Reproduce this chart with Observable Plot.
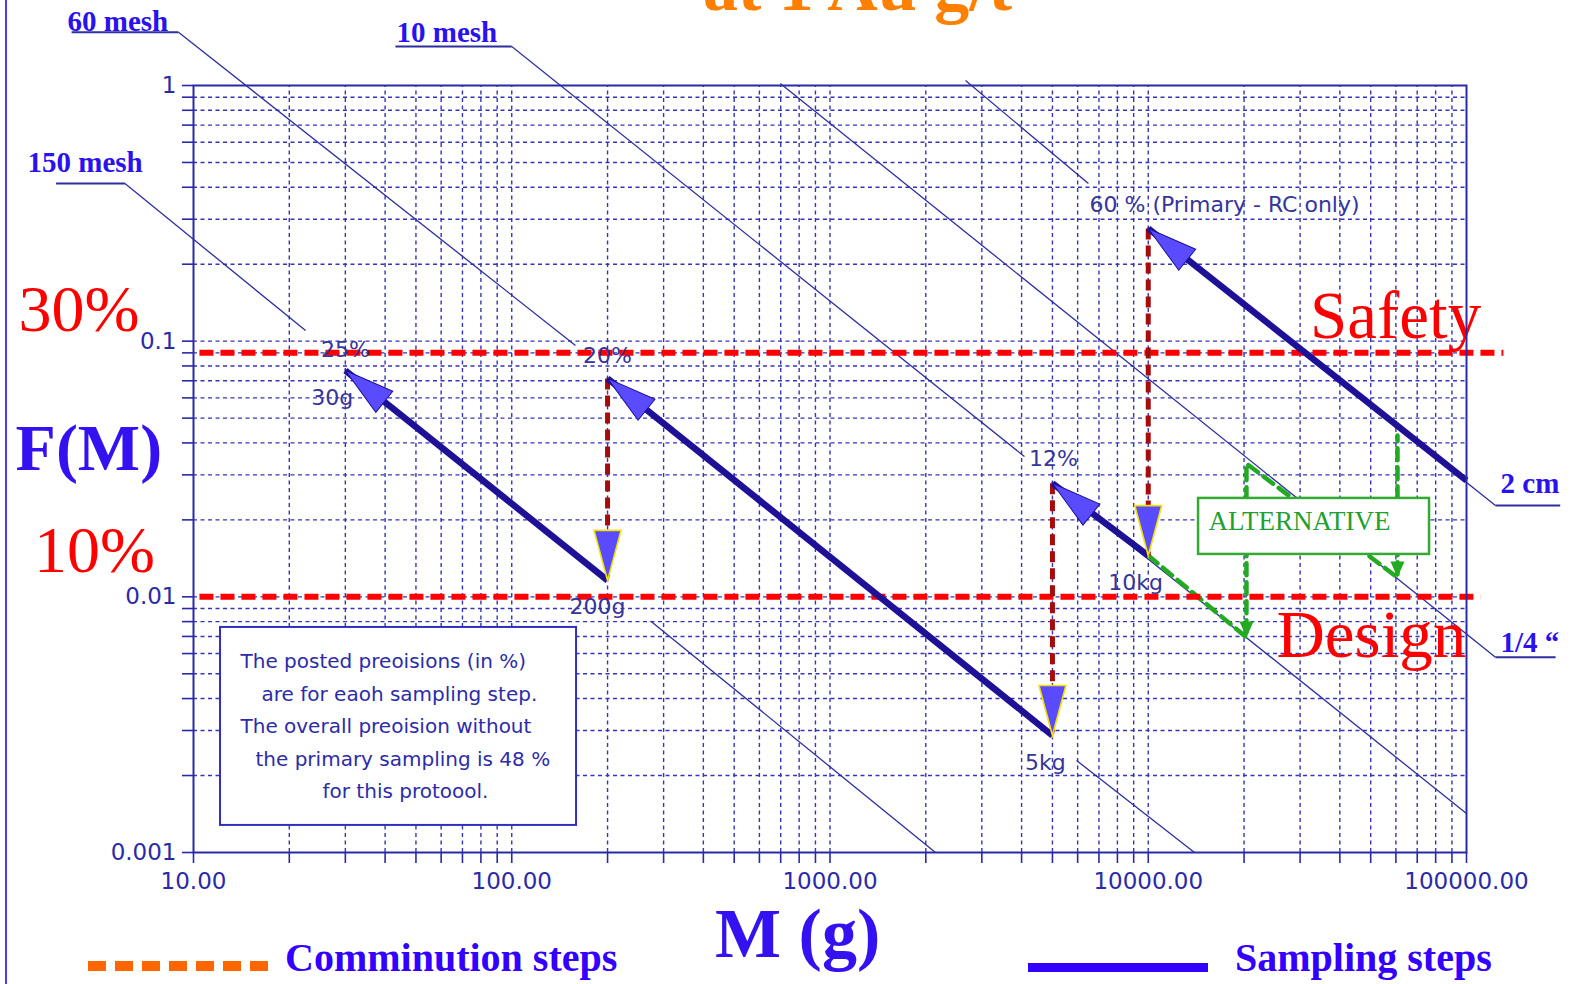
<!DOCTYPE html>
<html><head><meta charset="utf-8">
<script src="https://cdn.jsdelivr.net/npm/d3@7"></script>
<script src="https://cdn.jsdelivr.net/npm/@observablehq/plot@0.6"></script>
<style>
html,body{margin:0;padding:0;background:#fff;overflow:hidden;}
#wrap{position:relative;width:1571px;height:984px;}
#chart svg{display:block;}
.legline{position:absolute;}
.legtext{position:absolute;font-family:"Liberation Serif","Times New Roman",serif;font-weight:bold;font-size:40px;line-height:40px;color:#3300ff;white-space:nowrap;}
</style></head>
<body><div id="wrap"><div id="chart"></div></div>
<script>
// ---------- axis ticks ----------
const xTicks = [10,20,30,40,50,60,70,80,90,100,200,300,400,500,600,700,800,900,1000,2000,3000,4000,5000,6000,7000,8000,9000,10000,20000,30000,40000,50000,60000,70000,80000,90000,100000];
const xMajor = [10,100,1000,10000,100000];
const xMajorLabels = ["10.00","100.00","1000.00","10000.00","100000.00"];
const yTicks = [0.001,0.002,0.003,0.004,0.005,0.006,0.007,0.008,0.009,0.01,0.02,0.03,0.04,0.05,0.06,0.07,0.08,0.09,0.1,0.2,0.3,0.4,0.5,0.6,0.7,0.8,0.9,1];
const yMajor = [0.001,0.01,0.1,1];
const yMajorLabels = ["0.001","0.01","0.1","1"];

// ---------- particle-size reference lines (segments) ----------
const meshSegM1 = [6.09, 273, 8.97, 5953, 100, 5000, 698, 2666, 10000];
const meshSegF1 = [0.4138, 0.00805, 1.616, 0.00229, 1.42, 0.028, 1.018, 1.046, 0.276];
const meshSegM2 = [22.5, 2145, 158.6, 13975, 4083, 100000, 123300, 6486, 123300];
const meshSegF2 = [0.110, 0.001, 0.0962, 0.001, 0.0354, 0.00142, 0.0058, 0.4137, 0.02277];
const leaderM1 = [3.70, 4.14, 43.1, 123300, 123300];
const leaderM2 = [6.09, 8.97, 100, 190500, 197000];
const leaderF = [0.4138, 1.616, 1.42, 0.0058, 0.02277];
const meshLabels = ["150 mesh", "60 mesh", "10 mesh", "2 cm", "1/4 \u201c"];
const meshLabelM = [3.01, 4.02, 43.45, 127900, 127900];
const meshLabelF = [0.457, 1.641, 1.473, 0.02538, 0.00606];

// ---------- precision limits ----------
const limitF = [0.09, 0.01];
const limitM1 = [10.44, 10.44];
const limitM2 = [130600, 110700];
const limitLabels = ["Safety", "Design"];
const limitLabelM = [32240, 25290];
const limitLabelF = [0.1025, 0.0058];
const pctLabels = ["30%", "10%"];
const pctLabelM = [2.82, 3.155];
const pctLabelF = [0.110, 0.01246];

// ---------- sampling steps ----------
const samplingFromM = [200, 5000, 10000, 100000];
const samplingFromF = [0.0116, 0.00287, 0.0145, 0.0285];
const samplingToM = [30, 200, 5000, 10000];
const samplingToF = [0.0768, 0.0715, 0.0278, 0.276];

// ---------- comminution steps ----------
const comminutionM = [200, 5000, 10000];
const comminutionTopF = [0.0715, 0.0278, 0.276];
const comminutionBottomF = [0.0116, 0.00287, 0.0145];

// ---------- step labels ----------
const stepLabels = ["25%", "30g", "20%", "200g", "12%", "10kg", "5kg"];
const stepLabelM = [30.0, 27.3, 200, 186, 5038, 9120, 4753];
const stepLabelF = [0.0864, 0.0561, 0.0825, 0.00853, 0.0324, 0.0106, 0.00210];
const primaryLabel = ["60 % (Primary - RC only)"];
const primaryLabelM = [6537];
const primaryLabelF = [0.3187];

// ---------- alternative path ----------
const altPathM = [10000, 20350, 20350, 60700, 60700];
const altPathF = [0.0145, 0.00694, 0.0332, 0.0119, 0.0428];
const altHeadM = [20350, 60700];
const altHeadF = [0.00694, 0.0119];
const altBoxM = [14390, 76530];
const altBoxF = [0.02426, 0.01465];
const altLabel = ["ALTERNATIVE"];
const altLabelM = [15460];
const altLabelF = [0.01819];

// ---------- note box ----------
const noteBoxM = [12.16, 159.8];
const noteBoxF = [0.00759, 0.001276];
const noteLines = ["The posted preoisions (in %)", "are for eaoh sampling step.", "The overall preoision without", "the primary sampling is 48 %", "for this protoool."];
const noteM = [14.05, 16.36, 14.05, 15.66, 25.43];
const noteF = [0.005248, 0.0039, 0.002923, 0.002173, 0.001629];

// ---------- titles ----------
const titleText = ["at 1 Au g/t"];
const titleM = [1220];
const titleF = [1.965];
const yTitle = ["F(M)"];
const yTitleM = [2.76];
const yTitleF = [0.0312];
const xTitle = ["M (g)"];
const xTitleM = [791];
const xTitleF = [0.000389];
const legendLabels = ["Comminution steps", "Sampling steps"];

// ---------- build tables ----------
const segs = meshSegM1.map((m, i) => ({x1: m, y1: meshSegF1[i], x2: meshSegM2[i], y2: meshSegF2[i]}));
const leaders = leaderM1.map((m, i) => ({x1: m, x2: leaderM2[i], y: leaderF[i]}));
const meshText = meshLabels.map((t, i) => ({t, x: meshLabelM[i], y: meshLabelF[i]}));
const limits = limitF.map((f, i) => ({y: f, x1: limitM1[i], x2: limitM2[i]}));
const limitText = limitLabels.map((t, i) => ({t, x: limitLabelM[i], y: limitLabelF[i]}));
const pctText = pctLabels.map((t, i) => ({t, x: pctLabelM[i], y: pctLabelF[i]}));
const sampling = samplingFromM.map((m, i) => ({x1: m, y1: samplingFromF[i], x2: samplingToM[i], y2: samplingToF[i]}));
const comminution = comminutionM.map((m, i) => ({x: m, y1: comminutionTopF[i], y2: comminutionBottomF[i]}));
const stepText = stepLabels.map((t, i) => ({t, x: stepLabelM[i], y: stepLabelF[i]}));
const primaryText = primaryLabel.map((t, i) => ({t, x: primaryLabelM[i], y: primaryLabelF[i]}));
const altPath = altPathM.map((m, i) => ({x: m, y: altPathF[i]}));
const altHeads = altHeadM.map((m, i) => ({x: m, y: altHeadF[i]}));
const altBox = [{x1: altBoxM[0], x2: altBoxM[1], y1: altBoxF[0], y2: altBoxF[1]}];
const altText = altLabel.map((t, i) => ({t, x: altLabelM[i], y: altLabelF[i]}));
const noteBox = [{x1: noteBoxM[0], x2: noteBoxM[1], y1: noteBoxF[0], y2: noteBoxF[1]}];
const noteText = noteLines.map((t, i) => ({t, x: noteM[i], y: noteF[i]}));
const titleRows = titleText.map((t, i) => ({t, x: titleM[i], y: titleF[i]}));
const yTitleRows = yTitle.map((t, i) => ({t, x: yTitleM[i], y: yTitleF[i]}));
const xTitleRows = xTitle.map((t, i) => ({t, x: xTitleM[i], y: xTitleF[i]}));

const xGrid = xTicks.filter(d => d !== 10 && d !== 100000);
const yGrid = yTicks.filter(d => d !== 0.001 && d !== 1);

// arrowhead shapes: tip at the origin, body along +y
const head = {draw(ctx) { ctx.moveTo(0, 0); ctx.lineTo(-13.5, 50); ctx.lineTo(13.5, 50); ctx.closePath(); }};
const smallHead = {draw(ctx) { ctx.moveTo(0, 0); ctx.lineTo(-7, 16); ctx.lineTo(7, 16); ctx.closePath(); }};

const gridColor = "#3535b5";
const axisColor = "#2a2aa8";
const lineColor = "#2e2e9e";
const serif = "Liberation Serif, Times New Roman, serif";
const sans = "DejaVu Sans, Verdana, sans-serif";
const labelColor = "#35359a";

const chart = Plot.plot({
  width: 1571, height: 984,
  marginLeft: 193, marginRight: 105, marginTop: 85, marginBottom: 132,
  style: {background: "white", fontFamily: sans, fontSize: "23px", color: axisColor, overflow: "visible"},
  x: {type: "log", domain: [10, 100000]},
  y: {type: "log", domain: [0.001, 1]},
  marks: [
    Plot.ruleX(xGrid, {y1: 0.001, y2: 1, stroke: gridColor, strokeWidth: 1.4, strokeDasharray: "4,3.5"}),
    Plot.ruleY(yGrid, {x1: 10, x2: 100000, stroke: gridColor, strokeWidth: 1.4, strokeDasharray: "4,3.5"}),
    Plot.link(segs, {x1: "x1", y1: "y1", x2: "x2", y2: "y2", stroke: lineColor, strokeWidth: 1.3}),
    Plot.link(leaders, {x1: "x1", x2: "x2", y1: "y", y2: "y", stroke: lineColor, strokeWidth: 2}),
    Plot.text(meshText, {x: "x", y: "y", text: "t", textAnchor: "start", lineAnchor: "bottom", fontFamily: serif, fontWeight: "bold", fontSize: 29, fill: "#2a12ee"}),
    Plot.line(altPath, {x: "x", y: "y", stroke: "#22aa22", strokeWidth: 4.5, strokeDasharray: "12,7"}),
    Plot.dot(altHeads, {x: "x", y: "y", symbol: smallHead, rotate: 180, fill: "#22aa22", stroke: "none"}),
    Plot.link(limits, {x1: "x1", x2: "x2", y1: "y", y2: "y", stroke: "#ff0000", strokeWidth: 6, strokeDasharray: "14,7"}),
    Plot.link(comminution, {x1: "x", x2: "x", y1: "y1", y2: "y2", stroke: "#a50d0d", strokeWidth: 5, strokeDasharray: "11,6"}),
    Plot.link(sampling, {x1: "x1", y1: "y1", x2: "x2", y2: "y2", stroke: "#1e1196", strokeWidth: 6.5}),
    Plot.dot(sampling, {x: "x2", y: "y2", symbol: head, rotate: -51.2, fill: "#5a4bff", stroke: "#1e1196", strokeWidth: 1}),
    Plot.dot(comminution, {x: "x", y: "y2", symbol: head, rotate: 180, fill: "#5a4bff", stroke: "#f2e200", strokeWidth: 1.6}),
    Plot.rect(noteBox, {x1: "x1", x2: "x2", y1: "y1", y2: "y2", fill: "white", stroke: "#3030c0", strokeWidth: 2}),
    Plot.text(noteText, {x: "x", y: "y", text: "t", textAnchor: "start", lineAnchor: "bottom", fontFamily: sans, fontSize: 20, fill: "#2c2ca8"}),
    Plot.rect(altBox, {x1: "x1", x2: "x2", y1: "y1", y2: "y2", fill: "white", stroke: "#33aa33", strokeWidth: 2.5}),
    Plot.text(altText, {x: "x", y: "y", text: "t", textAnchor: "start", lineAnchor: "bottom", fontFamily: serif, fontSize: 27, fill: "#1fa030"}),
    Plot.text(stepText, {x: "x", y: "y", text: "t", textAnchor: "middle", lineAnchor: "bottom", fontFamily: sans, fontSize: 22, fill: labelColor}),
    Plot.text(primaryText, {x: "x", y: "y", text: "t", textAnchor: "start", lineAnchor: "bottom", fontFamily: sans, fontSize: 22, fill: labelColor}),
    Plot.text(pctText, {x: "x", y: "y", text: "t", textAnchor: "start", lineAnchor: "bottom", fontFamily: serif, fontSize: 66, fill: "#ff0000"}),
    Plot.text(limitText, {x: "x", y: "y", text: "t", textAnchor: "start", lineAnchor: "bottom", fontFamily: serif, fontSize: 67, fill: "#ff0000"}),
    Plot.text(yTitleRows, {x: "x", y: "y", text: "t", textAnchor: "start", lineAnchor: "bottom", fontFamily: serif, fontWeight: "bold", fontSize: 66, fill: "#3311f0"}),
    Plot.text(xTitleRows, {x: "x", y: "y", text: "t", textAnchor: "middle", lineAnchor: "bottom", fontFamily: serif, fontWeight: "bold", fontSize: 70, fill: "#3311f0"}),
    Plot.text(titleRows, {x: "x", y: "y", text: "t", textAnchor: "middle", lineAnchor: "bottom", fontFamily: serif, fontWeight: "bold", fontSize: 70, fill: "#ff8000"}),
    Plot.frame({stroke: axisColor, strokeWidth: 2}),
    Plot.axisX(xTicks, {anchor: "bottom", tickSize: 11, tickPadding: 9, label: null, strokeWidth: 1.6,
      tickFormat: d => { const i = xMajor.indexOf(d); return i < 0 ? "" : xMajorLabels[i]; }}),
    Plot.axisY(yTicks, {anchor: "left", tickSize: 11, tickPadding: 6, label: null, strokeWidth: 1.6,
      tickFormat: d => { const i = yMajor.indexOf(d); return i < 0 ? "" : yMajorLabels[i]; }})
  ]
});
document.getElementById("chart").append(chart);

// slide border and legend (HTML, over the picture)
const wrap = document.getElementById("wrap");
function addDiv(cls, css, text) {
  const d = document.createElement("div");
  d.className = cls; d.style.cssText = css; if (text) d.textContent = text;
  wrap.append(d);
}
addDiv("", "position:absolute;left:5px;top:0;width:2px;height:984px;background:#4a3cf5");
addDiv("legline", "left:88px;top:961px;width:180px;height:10px;background:repeating-linear-gradient(90deg,#ff6600 0 18px,transparent 18px 27px)");
addDiv("legtext", "left:285px;top:938px", legendLabels[0]);
addDiv("legline", "left:1028px;top:963px;width:180px;height:9px;background:#3300ff");
addDiv("legtext", "left:1235px;top:938px", legendLabels[1]);
</script>
</body></html>
